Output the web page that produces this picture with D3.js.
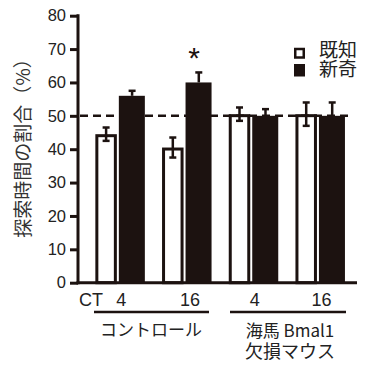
<!DOCTYPE html>
<html><head><meta charset="utf-8">
<script src="https://cdn.jsdelivr.net/npm/d3@7"></script>
<style>body{margin:0;background:#fff}</style>
</head><body>
<script>
const groups = ["c4","c16","b4","b16"];
const ctLabels = ["4","16","4","16"];
const knownValues = [44.5, 40.5, 50.5, 50.5];
const knownErrors = [2, 3, 2, 3.5];
const novelValues = [56, 60, 50, 50];
const novelErrors = [1.5, 3, 2, 4];
const yTicks = [0,10,20,30,40,50,60,70,80];
const legendLabels = ["既知","新奇"];
const chance = 50;
const ink = "#1c1210";
const fnt = "'Liberation Sans', Arial, sans-serif";
const jfnt = "'Noto Sans CJK JP', sans-serif";

const svg = d3.select("body").append("svg").attr("width",384).attr("height",368);
const y = d3.scaleLinear().domain([0,80]).range([282.7,15.7]);
const x = d3.scaleBand().domain(groups).range([86,352.8]).padding(0);
const sub = d3.scaleBand().domain(["known","novel"]).range([-24,24]).paddingInner(0.04);
const cx = g => x(g) + x.bandwidth()/2;

// bars
const g = svg.append("g");
groups.forEach((gr,i)=>{
  const c = cx(gr);
  const kx = c + sub("known"), nx = c + sub("novel");
  g.append("rect").attr("x",kx+1.5).attr("y",y(knownValues[i])+1.5)
    .attr("width",sub.bandwidth()-5).attr("height",y(0)-y(knownValues[i])-1.5)
    .attr("fill","#fff").attr("stroke",ink).attr("stroke-width",3);
  g.append("rect").attr("x",nx-1).attr("y",y(novelValues[i]))
    .attr("width",sub.bandwidth()+2.5).attr("height",y(0)-y(novelValues[i]))
    .attr("fill",ink);
  const kc = kx + (sub.bandwidth()-2)/2;
  g.append("line").attr("x1",kc).attr("x2",kc).attr("y1",y(knownValues[i]+knownErrors[i])).attr("y2",y(knownValues[i]-knownErrors[i])).attr("stroke",ink).attr("stroke-width",2.5);
  [knownValues[i]+knownErrors[i], knownValues[i]-knownErrors[i]].forEach(v=>{
    g.append("line").attr("x1",kc-3.5).attr("x2",kc+3.5).attr("y1",y(v)).attr("y2",y(v)).attr("stroke",ink).attr("stroke-width",2.5);
  });
  const nc = nx + (sub.bandwidth()+1)/2;
  g.append("line").attr("x1",nc).attr("x2",nc).attr("y1",y(novelValues[i]+novelErrors[i])).attr("y2",y(novelValues[i])).attr("stroke",ink).attr("stroke-width",2.5);
  g.append("line").attr("x1",nc-3.5).attr("x2",nc+3.5).attr("y1",y(novelValues[i]+novelErrors[i])).attr("y2",y(novelValues[i]+novelErrors[i])).attr("stroke",ink).attr("stroke-width",2.5);
});

// dashed chance line
svg.append("line").attr("x1",80).attr("x2",353).attr("y1",y(chance)).attr("y2",y(chance))
  .attr("stroke",ink).attr("stroke-width",2.5).attr("stroke-dasharray","8,5");

// y axis
const ya = svg.append("g").attr("transform","translate(78,0)")
  .call(d3.axisLeft(y).tickValues(yTicks).tickSize(8).tickPadding(4));
ya.select(".domain").remove();
ya.selectAll(".tick line").attr("stroke",ink).attr("stroke-width",3);
ya.selectAll(".tick text").attr("font-family",fnt).attr("font-size",16.5).attr("fill","#222");
svg.append("line").attr("x1",78).attr("x2",78).attr("y1",y(80)-1.5).attr("y2",y(0)+1.5).attr("stroke",ink).attr("stroke-width",3);
svg.append("line").attr("x1",76.5).attr("x2",357).attr("y1",y(0)).attr("y2",y(0)).attr("stroke",ink).attr("stroke-width",3);

// x labels
svg.append("text").attr("x",79).attr("y",306).attr("font-family",fnt).attr("font-size",18).attr("fill","#222").text("CT");
groups.forEach((gr,i)=>{
  svg.append("text").attr("x",cx(gr)+ (i===1?4:2)).attr("y",306).attr("text-anchor","middle")
    .attr("font-family",fnt).attr("font-size",18).attr("fill","#222").text(ctLabels[i]);
});
svg.append("line").attr("x1",94).attr("x2",209).attr("y1",312).attr("y2",312).attr("stroke",ink).attr("stroke-width",2.5);
svg.append("line").attr("x1",230).attr("x2",346).attr("y1",312).attr("y2",312).attr("stroke",ink).attr("stroke-width",2.5);
svg.append("text").attr("x",151).attr("y",336).attr("text-anchor","middle").attr("font-family",jfnt).attr("font-size",17).attr("fill","#222").text("コントロール");
const gl = svg.append("text").attr("text-anchor","middle").attr("font-family",jfnt).attr("fill","#222");
gl.append("tspan").attr("x",290).attr("y",337).attr("font-size",17).text("海馬 Bmal1");
gl.append("tspan").attr("x",290).attr("y",358).attr("font-size",18).text("欠損マウス");

// asterisk
svg.append("text").attr("x",cx("c16")+8).attr("y",68).attr("text-anchor","middle").attr("font-family",fnt).attr("font-size",30).attr("fill",ink).text("*");

// legend
svg.append("rect").attr("x",295.25).attr("y",49).attr("width",8.5).attr("height",8.5).attr("fill","#fff").attr("stroke",ink).attr("stroke-width",2.5);
svg.append("rect").attr("x",294).attr("y",64).attr("width",11).attr("height",12.5).attr("fill",ink);
const lt = svg.append("text").attr("font-family",jfnt).attr("font-size",19).attr("fill","#222");
legendLabels.forEach((l,i)=> lt.append("tspan").attr("x",319).attr("y",57+i*19).text(l));

// y title
svg.append("text").attr("transform","translate(29.5,143.5) rotate(-90)").attr("text-anchor","middle")
  .attr("font-family",jfnt).attr("font-size",19).attr("fill","#333").text("探索時間の割合（%）");
</script>
</body></html>
